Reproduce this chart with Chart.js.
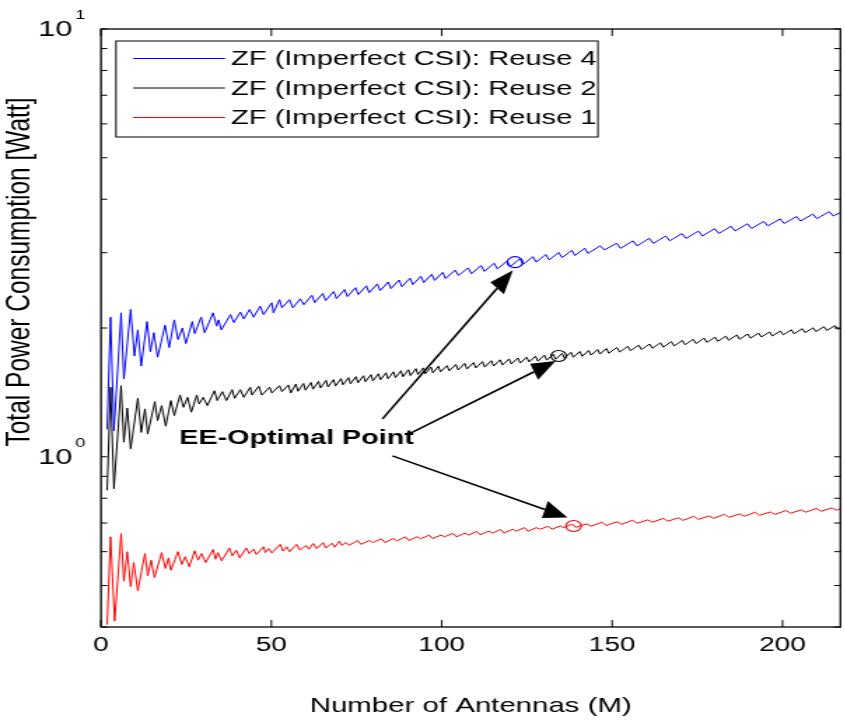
<!DOCTYPE html>
<html>
<head>
<meta charset="utf-8">
<title>Total Power Consumption vs Number of Antennas</title>
<script src="https://cdn.jsdelivr.net/npm/chart.js@4.4.1/dist/chart.umd.min.js"></script>
<style>
  html, body { margin: 0; padding: 0; background: #fff; overflow: hidden; }
  /* the original figure is stretched sideways, so the whole canvas is too */
  #wrap { width: 607px; height: 720px; transform: scaleX(1.4); transform-origin: 0 0; }
</style>
</head>
<body>
<div id="wrap"><canvas id="myChart" width="607" height="720"></canvas></div>
<script>
// Reuse 4 (blue)
var blueM = [1.8,2.8,3.8,5.9,6.7,8.7,9.8,10.8,11.8,13.5,14.5,15.5,16.6,18.8,20.0,21.5,22.6,23.9,24.9,26.8,27.5,29.4,30.4,32.9,33.9,34.5,35.3,38.0,39.0,40.9,41.9,43.6,44.8,46.7,47.7,50.1,50.6,52.4,53.1,55.3,56.3,58.5,
  59.5,61.9,62.7,65.1,65.9,68.3,69.1,71.5,72.3,74.7,75.5,77.9,78.7,81.1,81.9,84.3,85.1,87.5,88.3,90.7,91.5,93.9,94.7,97.1,97.9,100.3,101.1,
  103.95,104.9,107.75,108.7,111.55,112.5,115.35,116.3,119.15,120.1,122.95,123.9,126.75,127.7,130.55,131.5,134.35,135.3,138.15,139.1,141.95,142.9,
  146.5,147.7,151.3,152.5,156.1,157.3,160.9,162.1,165.7,166.9,170.5,171.7,175.3,176.5,180.1,181.3,184.9,186.1,189.7,190.9,194.5,195.7,199.3,200.5,204.1,205.3,208.9,210.1,213.7,214.9,217];
var blueV = [1.16,2.12,1.15,2.17,1.52,2.21,1.72,1.98,1.63,2.07,1.76,1.95,1.71,2.03,1.80,2.09,1.88,2.00,1.84,2.07,1.94,2.12,1.95,2.17,2.02,2.09,1.98,2.15,2.06,2.18,2.10,2.21,2.12,2.25,2.15,2.29,2.17,2.33,2.23,2.33,2.23,2.34,
  2.267,2.385,2.293,2.409,2.319,2.434,2.343,2.459,2.369,2.485,2.395,2.510,2.420,2.536,2.446,2.562,2.473,2.590,2.499,2.615,2.527,2.643,2.555,2.671,2.583,2.698,2.610,
  2.731,2.655,2.764,2.679,2.799,2.713,2.833,2.749,2.867,2.785,2.902,2.819,2.936,2.853,2.970,2.886,3.003,2.920,3.038,2.954,3.073,2.988,
  3.113,3.045,3.155,3.071,3.197,3.112,3.240,3.154,3.281,3.198,3.325,3.239,3.369,3.283,3.413,3.327,3.458,3.372,3.505,3.418,3.549,3.465,3.597,3.510,3.645,3.558,3.693,3.604,3.741,3.653,3.725];

// Reuse 2 (black)
var blackM = [1.8,2.8,3.8,5.9,6.7,7.7,8.7,10.8,11.8,12.9,13.7,15.8,16.6,17.8,19.0,20.5,21.5,23.2,24.2,25.4,26.5,28.1,28.8,30.0,31.2,33.3,34.1,35.6,36.8,38.5,39.2,40.9,41.9,43.8,44.3,46.3,47.2,49.5,50.1,52.4,53.1,55.0,55.7,57.2,
  57.8,59.45,60.0,61.65,62.2,63.85,64.4,66.05,66.6,68.25,68.8,70.45,71.0,72.65,73.2,74.85,75.4,77.05,77.6,79.25,79.8,81.45,82.0,83.65,84.2,85.85,86.4,88.05,88.6,90.25,90.8,92.45,93.0,94.65,95.2,96.85,97.4,99.05,99.6,
  101.55,102.2,104.15,104.8,106.75,107.4,109.35,110.0,111.95,112.6,114.55,115.2,117.15,117.8,119.75,120.4,122.35,123.0,124.95,125.6,127.55,128.2,130.15,130.8,132.75,133.4,135.35,136.0,137.95,138.6,140.55,141.2,143.15,143.8,145.75,146.4,148.35,149.0,
  151.4,152.2,154.6,155.4,157.8,158.6,161.0,161.8,164.2,165.0,167.4,168.2,170.6,171.4,173.8,174.6,177.0,177.8,180.2,181.0,183.4,184.2,186.6,187.4,189.8,190.6,193.0,193.8,196.2,197.0,199.4,200.2,202.6,203.4,205.8,206.6,209.0,209.8,212.2,213.0,215.4,216.2,217];
var blackV = [0.835,1.454,0.842,1.466,1.082,1.300,1.044,1.370,1.140,1.294,1.130,1.346,1.215,1.317,1.179,1.353,1.248,1.394,1.305,1.377,1.271,1.394,1.329,1.377,1.317,1.427,1.353,1.420,1.353,1.435,1.370,1.435,1.377,1.454,1.394,1.462,1.394,1.454,1.410,1.466,1.420,1.472,1.410,1.480,
  1.423,1.484,1.431,1.492,1.439,1.500,1.448,1.508,1.456,1.515,1.463,1.523,1.473,1.531,1.481,1.539,1.489,1.547,1.498,1.556,1.505,1.564,1.514,1.572,1.522,1.580,1.531,1.589,1.539,1.598,1.548,1.607,1.557,1.614,1.564,1.621,1.571,1.628,1.579,
  1.633,1.588,1.644,1.596,1.653,1.604,1.660,1.613,1.669,1.621,1.677,1.630,1.685,1.639,1.693,1.648,1.702,1.656,1.709,1.666,1.718,1.673,1.728,1.682,1.736,1.691,1.745,1.700,1.754,1.709,1.763,1.718,1.772,1.729,1.781,1.738,1.790,1.746,
  1.801,1.758,1.812,1.770,1.823,1.781,1.835,1.793,1.847,1.804,1.858,1.816,1.870,1.828,1.882,1.840,1.893,1.851,1.904,1.862,1.914,1.873,1.926,1.883,1.936,1.894,1.946,1.906,1.958,1.916,1.968,1.928,1.981,1.939,1.992,1.951,2.002,1.962,2.014,1.974,2.026,1.985,2.000];

// Reuse 1 (red)
var redM = [1.8,2.8,4.0,5.9,6.7,7.7,8.7,9.6,10.8,12.9,13.7,14.7,15.7,17.8,18.9,19.8,20.5,22.6,23.7,24.7,25.9,27.5,28.5,29.5,30.7,32.9,33.6,34.3,35.4,37.7,38.5,39.7,40.7,42.6,43.5,44.8,45.6,47.7,48.2,49.2,50.1,52.6,53.4,54.5,55.3,57.4,58.4,60.2,61.0,62.3,63.3,65.2,66.0,67.8,68.6,70.0,70.6,72.0,
  72.8,75.3,76.3,78.8,79.8,82.3,83.3,85.8,86.8,89.3,90.3,92.8,93.8,96.3,97.3,99.8,100.8,103.3,104.3,106.8,107.8,110.3,111.3,113.8,114.8,117.3,118.3,120.8,121.8,124.3,125.3,127.8,128.8,131.3,132.3,134.8,135.8,138.3,139.3,
  142.5,143.8,147.0,148.3,151.5,152.8,156.0,157.3,160.5,161.8,165.0,166.3,169.5,170.8,174.0,175.3,178.5,179.8,183.0,184.3,187.5,188.8,192.0,193.3,196.5,197.8,201.0,202.3,205.5,206.8,210.0,211.3,214.5,215.8,217];
var redV = [0.405,0.650,0.413,0.661,0.512,0.600,0.497,0.566,0.486,0.594,0.527,0.573,0.522,0.597,0.548,0.580,0.543,0.600,0.560,0.584,0.553,0.603,0.573,0.594,0.566,0.607,0.576,0.597,0.571,0.612,0.587,0.605,0.580,0.612,0.594,0.608,0.591,0.616,0.597,0.610,0.596,0.624,0.602,0.616,0.600,0.624,0.605,0.620,0.608,0.627,0.610,0.630,0.612,0.628,0.615,0.635,0.621,0.630,
  0.621,0.637,0.624,0.637,0.630,0.643,0.630,0.644,0.636,0.650,0.637,0.650,0.643,0.656,0.644,0.656,0.650,0.662,0.650,0.663,0.656,0.669,0.657,0.670,0.663,0.676,0.663,0.677,0.670,0.683,0.670,0.683,0.677,0.688,0.677,0.689,0.683,0.696,0.684,
  0.697,0.688,0.703,0.691,0.705,0.695,0.711,0.699,0.712,0.703,0.718,0.707,0.720,0.710,0.726,0.714,0.727,0.718,0.734,0.722,0.735,0.726,0.742,0.730,0.743,0.733,0.749,0.738,0.751,0.742,0.757,0.746,0.759,0.750,0.756];

var seriesLabels = ["ZF (Imperfect CSI): Reuse 4", "ZF (Imperfect CSI): Reuse 2", "ZF (Imperfect CSI): Reuse 1"];
var seriesColors = ["#0000ff", "#000000", "#ff0000"];

// EE-optimal points (circles) and the arrows pointing at them
var optM = [121.5, 134.3, 138.7];
var optV = [2.85, 1.72, 0.689];
var noteText = "EE-Optimal Point";
var noteM = 23, noteV = 1.106;
var arrowFromM = [82.6, 90.4, 85.5];
var arrowFromV = [1.226, 1.131, 1.005];
var arrowToM = [120.9, 133.4, 136.9];
var arrowToV = [2.73, 1.674, 0.721];

var xTicks = [0, 50, 100, 150, 200];
var yTicks = [0.4, 0.5, 0.6, 0.7, 0.8, 0.9, 1, 2, 3, 4, 5, 6, 7, 8, 9, 10];
var xTitle = "Number of Antennas (M)";
var yTitle = "Total Power Consumption [Watt]";

var FONT = "'Liberation Sans', Arial, sans-serif";
var SX = 1.4; // same as the scaleX in the css

function pts(m, v) {
  return m.map(function (x, i) { return {x: x, y: v[i]}; });
}

function drawArrow(ctx, x0, y0, x1, y1) {
  // work in on-screen pixels so the head is not squashed by the stretch
  var ax = x0 * SX, bx = x1 * SX;
  var dx = bx - ax, dy = y1 - y0;
  var len = Math.sqrt(dx * dx + dy * dy);
  var ux = dx / len, uy = dy / len;
  var hl = 24, hw = 9;
  var cx = bx - ux * hl, cy = y1 - uy * hl;
  ctx.beginPath();
  ctx.moveTo(ax / SX, y0);
  ctx.lineTo(cx / SX, cy);
  ctx.stroke();
  ctx.beginPath();
  ctx.moveTo(bx / SX, y1);
  ctx.lineTo((cx - uy * hw) / SX, cy + ux * hw);
  ctx.lineTo((cx + uy * hw) / SX, cy - ux * hw);
  ctx.closePath();
  ctx.fill();
}

var extras = {
  id: 'extras',
  afterDatasetsDraw: function (chart) {
    var ctx = chart.ctx, a = chart.chartArea;
    var xs = chart.scales.x, ys = chart.scales.y;
    ctx.save();

    // axes box
    ctx.strokeStyle = '#000';
    ctx.lineWidth = 1.3;
    ctx.strokeRect(a.left, a.top, a.right - a.left, a.bottom - a.top);

    // ticks point inwards, on all four sides
    ctx.lineWidth = 1;
    xs.ticks.forEach(function (t) {
      var px = xs.getPixelForValue(t.value);
      ctx.beginPath();
      ctx.moveTo(px, a.bottom); ctx.lineTo(px, a.bottom - 7);
      ctx.moveTo(px, a.top); ctx.lineTo(px, a.top + 7);
      ctx.stroke();
    });
    ctx.fillStyle = '#000';
    ys.ticks.forEach(function (t) {
      var py = ys.getPixelForValue(t.value);
      ctx.beginPath();
      ctx.moveTo(a.left, py); ctx.lineTo(a.left + 4.5, py);
      ctx.moveTo(a.right, py); ctx.lineTo(a.right - 4.5, py);
      ctx.stroke();
      var e = Math.log10(t.value);
      if (Math.abs(e - Math.round(e)) < 1e-9) {
        ctx.textBaseline = 'middle';
        ctx.textAlign = 'right';
        ctx.font = '22px ' + FONT;
        ctx.fillText('10', a.left - 20.5, py + 1);
        ctx.textAlign = 'left';
        ctx.font = '13px ' + FONT;
        ctx.fillText(String(Math.round(e)), a.left - 18.5, py - 13.5);
      }
    });

    // y title
    ctx.save();
    ctx.translate(14.3, 272);
    ctx.rotate(-Math.PI / 2);
    ctx.textAlign = 'center';
    ctx.textBaseline = 'middle';
    ctx.font = '24.5px ' + FONT;
    ctx.fillText(yTitle, 0, 0);
    ctx.restore();

    // legend
    var bl = a.left + 10.7, bt = 41, br = 427.1, bb = 137;
    ctx.fillStyle = '#fff';
    ctx.fillRect(bl, bt, br - bl, bb - bt);
    ctx.strokeStyle = '#000';
    ctx.lineWidth = 1;
    ctx.strokeRect(bl, bt, br - bl, bb - bt);
    var rows = [58.5, 88, 117.5];
    ctx.font = '20.8px ' + FONT;
    ctx.textAlign = 'left';
    ctx.textBaseline = 'middle';
    for (var i = 0; i < 3; i++) {
      var ds = chart.data.datasets[i];
      ctx.strokeStyle = ds.borderColor;
      ctx.beginPath();
      ctx.moveTo(bl + 12.1, rows[i]);
      ctx.lineTo(bl + 77.9, rows[i]);
      ctx.stroke();
      ctx.fillStyle = '#000';
      ctx.fillText(ds.label, bl + 82.1, rows[i] + 1);
    }

    // annotation
    ctx.fillStyle = '#000';
    ctx.font = 'bold 20.5px ' + FONT;
    ctx.fillText(noteText, xs.getPixelForValue(noteM), ys.getPixelForValue(noteV));
    ctx.strokeStyle = '#000';
    ctx.lineWidth = 1.6;
    for (var j = 0; j < arrowFromM.length; j++) {
      drawArrow(ctx,
        xs.getPixelForValue(arrowFromM[j]), ys.getPixelForValue(arrowFromV[j]),
        xs.getPixelForValue(arrowToM[j]), ys.getPixelForValue(arrowToV[j]));
    }
    ctx.restore();
  }
};

var datasets = [
  {label: seriesLabels[0], data: pts(blueM, blueV), borderColor: seriesColors[0]},
  {label: seriesLabels[1], data: pts(blackM, blackV), borderColor: seriesColors[1]},
  {label: seriesLabels[2], data: pts(redM, redV), borderColor: seriesColors[2]}
].map(function (d) {
  d.borderWidth = 1; d.pointRadius = 0; d.fill = false; d.tension = 0;
  return d;
});
for (var k = 0; k < optM.length; k++) {
  datasets.push({
    label: 'opt' + k,
    data: [{x: optM[k], y: optV[k]}],
    showLine: false,
    pointStyle: 'circle',
    pointRadius: 5.5,
    pointBorderWidth: 1.2,
    pointBorderColor: seriesColors[k],
    pointBackgroundColor: 'rgba(0,0,0,0)'
  });
}

new Chart("myChart", {
  type: "line",
  data: { datasets: datasets },
  plugins: [extras],
  options: {
    responsive: false,
    animation: false,
    devicePixelRatio: 1,
    events: [],
    layout: { padding: { top: 29, right: 2.7, bottom: 0, left: 0 } },
    plugins: { legend: { display: false }, tooltip: { enabled: false } },
    scales: {
      x: {
        type: 'linear',
        min: 0,
        max: 217,
        afterBuildTicks: function (s) { s.ticks = xTicks.map(function (v) { return {value: v}; }); },
        afterFit: function (s) { s.height = 93; },
        grid: { display: false, drawTicks: false },
        border: { display: false },
        ticks: { color: '#000', padding: 6, font: { family: FONT, size: 20 } },
        title: { display: true, text: xTitle, color: '#000', padding: { top: 0, bottom: 1 }, font: { family: FONT, size: 21 } }
      },
      y: {
        type: 'logarithmic',
        min: 0.4,
        max: 10,
        afterBuildTicks: function (s) { s.ticks = yTicks.map(function (v) { return {value: v}; }); },
        afterFit: function (s) { s.width = 72.14; },
        grid: { display: false, drawTicks: false },
        border: { display: false },
        ticks: { display: false }
      }
    }
  }
});
</script>
</body>
</html>
